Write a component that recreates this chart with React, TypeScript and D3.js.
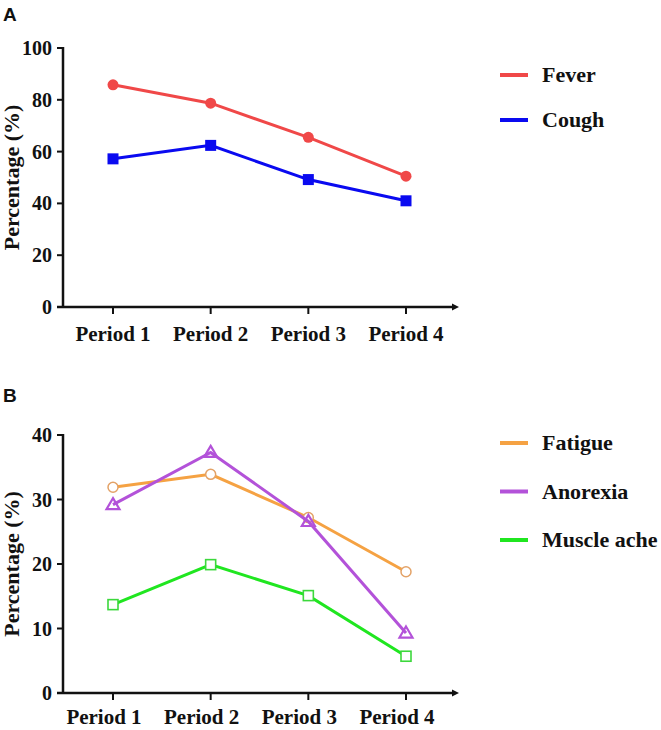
import React from "react";
import * as d3 from "d3";

const categories = ["Period 1", "Period 2", "Period 3", "Period 4"];

const feverValues = [85.8, 78.7, 65.5, 50.5];
const coughValues = [57.2, 62.4, 49.2, 41.0];

const fatigueValues = [31.9, 33.9, 27.2, 18.8];
const anorexiaValues = [29.2, 37.3, 26.6, 9.3];
const muscleAcheValues = [13.7, 19.9, 15.1, 5.7];

const ticksA = [0, 20, 40, 60, 80, 100];
const ticksB = [0, 10, 20, 30, 40];

const serif = "'Liberation Serif', 'Times New Roman', serif";
const sans = "'Liberation Sans', Arial, sans-serif";

type Series = {
  name: string;
  values: number[];
  color: string;
  markerColor: string;
  marker: "circle" | "square" | "ocircle" | "otriangle" | "osquare";
};

const seriesA: Series[] = [
  { name: "Fever", values: feverValues, color: "#f04848", markerColor: "#f04848", marker: "circle" },
  { name: "Cough", values: coughValues, color: "#0a0af0", markerColor: "#0a0af0", marker: "square" },
];
const seriesB: Series[] = [
  { name: "Fatigue", values: fatigueValues, color: "#f5a243", markerColor: "#e3a267", marker: "ocircle" },
  { name: "Anorexia", values: anorexiaValues, color: "#b352d9", markerColor: "#b352d9", marker: "otriangle" },
  { name: "Muscle ache", values: muscleAcheValues, color: "#20e620", markerColor: "#3cd83c", marker: "osquare" },
];

function Marker({ type, x, y, color }: { type: Series["marker"]; x: number; y: number; color: string }) {
  switch (type) {
    case "circle":
      return <circle cx={x} cy={y} r={5.5} fill={color} />;
    case "square":
      return <rect x={x - 5.5} y={y - 5.5} width={11} height={11} fill={color} />;
    case "ocircle":
      return <circle cx={x} cy={y} r={5} fill="white" stroke={color} strokeWidth={1.5} />;
    case "otriangle": {
      const s = 6.5;
      const p = `${x},${y - s} ${x + s},${y + s * 0.7} ${x - s},${y + s * 0.7}`;
      return <polygon points={p} fill="none" stroke={color} strokeWidth={2.2} />;
    }
    case "osquare":
      return <rect x={x - 5} y={y - 5} width={10} height={10} fill="white" stroke={color} strokeWidth={1.6} />;
  }
}

function Panel({
  label,
  top,
  maxV,
  ticks,
  series,
  yTop,
  yBottom,
  labelShift,
  labelDy,
  legendY,
  legendGap,
}: {
  label: string;
  top: number;
  maxV: number;
  ticks: number[];
  series: Series[];
  yTop: number;
  yBottom: number;
  labelShift: number;
  labelDy: number;
  legendY: number;
  legendGap: number;
}) {
  const axisX = 63;
  const x = d3.scalePoint<string>().domain(categories).range([113, 406]);
  const y = d3.scaleLinear().domain([0, maxV]).range([yBottom, yTop]);
  const line = d3
    .line<number>()
    .x((_, i) => x(categories[i]) as number)
    .y((d) => y(d));
  return (
    <g>
      <text x={3} y={top} fontFamily={sans} fontWeight="bold" fontSize={19} fill="#111">
        {label}
      </text>
      <line x1={axisX} x2={axisX} y1={yTop - 1} y2={yBottom} stroke="#111" strokeWidth={2.5} />
      {ticks.map((t) => (
        <g key={t}>
          <line x1={axisX - 6} x2={axisX} y1={y(t)} y2={y(t)} stroke="#111" strokeWidth={2} />
          <text
            x={52}
            y={y(t)}
            dy="0.35em"
            textAnchor="end"
            fontFamily={serif}
            fontWeight="bold"
            fontSize={20}
            fill="#111"
          >
            {t}
          </text>
        </g>
      ))}
      <line x1={57} x2={455} y1={yBottom} y2={yBottom} stroke="#111" strokeWidth={2.5} />
      <polygon
        points={`${459},${yBottom} ${452},${yBottom - 3.5} ${452},${yBottom + 3.5}`}
        fill="#111"
      />
      {categories.map((c) => (
        <g key={c}>
          <line x1={x(c)} x2={x(c)} y1={yBottom} y2={yBottom + 7} stroke="#111" strokeWidth={2} />
          <text
            x={(x(c) as number) + labelShift}
            y={yBottom + labelDy}
            textAnchor="middle"
            fontFamily={serif}
            fontWeight="bold"
            fontSize={21}
            fill="#111"
          >
            {c}
          </text>
        </g>
      ))}
      <text
        transform={`translate(19,${(yTop + yBottom) / 2}) rotate(-90)`}
        textAnchor="middle"
        fontFamily={serif}
        fontWeight="bold"
        fontSize={22}
        fill="#111"
      >
        Percentage (%)
      </text>
      {series.map((s) => (
        <g key={s.name}>
          <path d={line(s.values) as string} fill="none" stroke={s.color} strokeWidth={3} />
          {s.values.map((v, i) => (
            <Marker key={i} type={s.marker} x={x(categories[i]) as number} y={y(v)} color={s.markerColor} />
          ))}
        </g>
      ))}
      {series.map((s, i) => (
        <g key={"lg" + s.name}>
          <line
            x1={500}
            x2={528}
            y1={legendY + i * legendGap}
            y2={legendY + i * legendGap}
            stroke={s.color}
            strokeWidth={4}
          />
          <text
            x={542}
            y={legendY + i * legendGap}
            dy="0.33em"
            fontFamily={serif}
            fontWeight="bold"
            fontSize={22}
            fill="#111"
          >
            {s.name}
          </text>
        </g>
      ))}
    </g>
  );
}

export default function App() {
  return (
    <svg
      width={661}
      height={730}
      style={{ position: "absolute", left: 0, top: 0, background: "white" }}
    >
      <rect width={661} height={730} fill="white" />
      <Panel
        label="A"
        top={21}
        maxV={100}
        ticks={ticksA}
        series={seriesA}
        yTop={48}
        yBottom={307}
        labelShift={0}
        labelDy={34}
        legendY={75}
        legendGap={45}
      />
      <Panel
        label="B"
        top={402}
        maxV={40}
        ticks={ticksB}
        series={seriesB}
        yTop={435}
        yBottom={693}
        labelShift={-9}
        labelDy={31}
        legendY={443}
        legendGap={48.5}
      />
    </svg>
  );
}
